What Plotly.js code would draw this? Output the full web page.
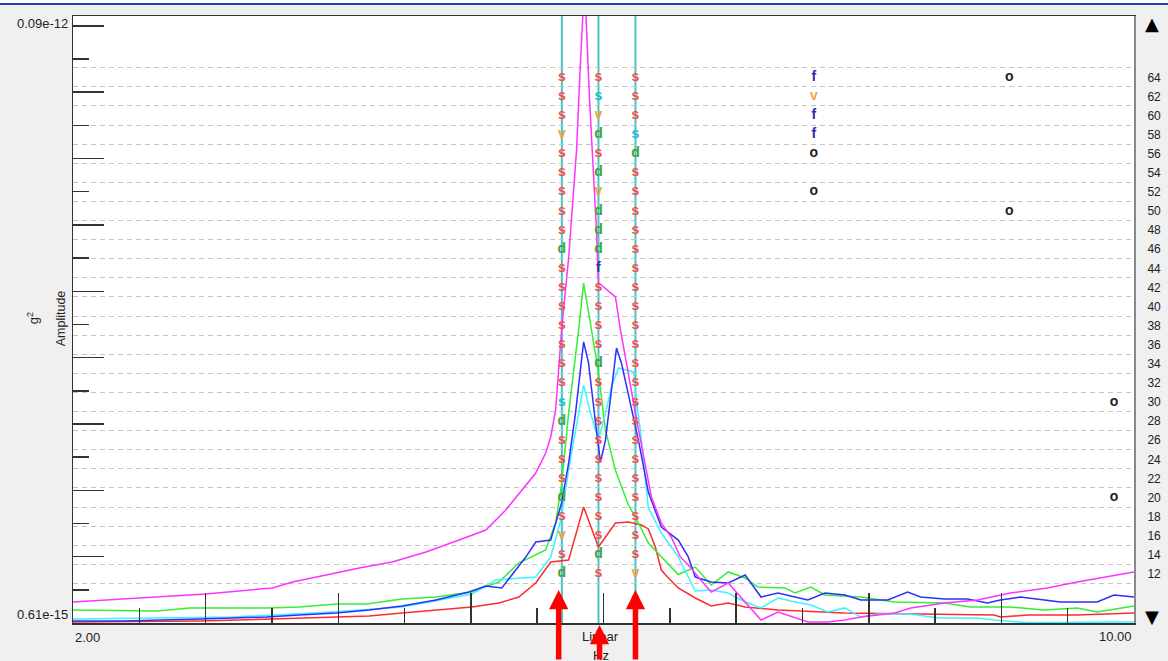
<!DOCTYPE html>
<html><head><meta charset="utf-8">
<script src="https://cdn.plot.ly/plotly-3.0.1.min.js"></script>
<style>html,body{margin:0;padding:0;background:#f0f0f0;overflow:hidden}#chart{width:1168px;height:661px}</style>
</head><body><div id="chart"></div>
<script>
// ---- data (frequency in Hz, amplitude in 1e-15 g^2) ----
const magentaFreq = [2.000,2.504,3.000,3.504,3.654,3.910,4.158,4.406,4.662,4.910,5.113,5.263,5.383,5.489,5.564,5.602,5.639,5.684,5.737,5.797,5.827,5.857,5.895,5.925,5.947,5.962,6.090,6.128,6.241,6.361,6.436,6.511,6.579,6.654,6.714,6.812,6.940,7.188,7.316,7.541,7.692,7.820,7.940,8.195,8.316,8.571,8.820,9.068,9.346,9.571,10.000];
const magentaAmp  = [0.727,0.752,0.777,0.818,0.860,0.911,0.966,1.016,1.105,1.221,1.328,1.569,1.855,2.139,2.527,2.891,3.622,7.07,12.9,31.9,67.7,130,48.4,27.0,16.3,10.5,9.32,7.07,3.53,1.75,1.41,1.25,1.06,0.974,0.896,0.790,0.852,0.625,0.669,0.615,0.615,0.625,0.641,0.663,0.692,0.721,0.739,0.784,0.818,0.860,0.935];

const greenFreq = [2.000,2.632,2.880,3.459,3.707,3.985,4.211,4.481,4.737,5.008,5.211,5.361,5.564,5.639,5.684,5.737,5.812,5.850,5.910,5.962,6.015,6.090,6.188,6.241,6.338,6.436,6.564,6.692,6.812,6.940,7.068,7.165,7.368,7.444,7.564,7.669,7.940,8.195,8.571,8.767,9.068,9.323,9.571,9.722,10.000];
const greenAmp  = [0.680,0.675,0.692,0.692,0.697,0.715,0.715,0.746,0.758,0.790,0.860,1.007,1.123,1.408,1.94,3.53,7.07,10.47,7.07,4.94,3.06,2.19,1.636,1.48,1.19,1.06,0.915,0.974,0.838,0.935,0.889,0.824,0.818,0.784,0.824,0.771,0.758,0.727,0.721,0.697,0.697,0.680,0.692,0.669,0.703];

const blueFreq = [2.000,2.376,2.955,3.459,3.707,3.985,4.233,4.481,4.737,4.985,5.113,5.233,5.414,5.489,5.602,5.684,5.737,5.789,5.850,5.887,5.940,5.977,6.015,6.053,6.098,6.135,6.211,6.263,6.338,6.436,6.564,6.639,6.692,6.812,6.940,7.068,7.188,7.316,7.444,7.541,7.669,7.820,7.940,8.143,8.293,8.391,8.571,8.744,8.895,8.992,9.143,9.323,9.444,9.722,9.850,10.000];
const blueAmp  = [0.620,0.620,0.631,0.641,0.652,0.663,0.680,0.703,0.739,0.790,0.831,0.818,1.059,1.201,1.221,1.664,2.325,3.53,6.40,5.37,3.25,2.34,2.82,4.04,6.08,5.37,3.71,2.82,1.824,1.36,1.22,1.06,0.896,0.860,0.852,0.911,0.758,0.784,0.758,0.739,0.784,0.771,0.739,0.739,0.790,0.758,0.746,0.746,0.721,0.739,0.758,0.739,0.727,0.727,0.771,0.758];

const cyanFreq = [2.000,3.203,3.955,4.481,5.008,5.188,5.489,5.602,5.684,5.737,5.850,5.902,5.962,6.015,6.060,6.113,6.226,6.248,6.278,6.301,6.338,6.436,6.564,6.692,6.812,6.940,7.068,7.188,7.316,7.444,7.564,7.692,7.820,7.940,8.068,8.316,8.519,8.820,8.947,9.195,9.444,10.000];
const cyanAmp  = [0.631,0.641,0.669,0.697,0.777,0.874,0.896,1.059,1.48,2.19,4.46,3.53,2.82,3.53,4.39,5.15,4.98,3.94,3.06,2.33,1.596,1.295,1.06,0.797,0.804,0.784,0.727,0.692,0.752,0.727,0.709,0.669,0.692,0.641,0.658,0.658,0.636,0.636,0.625,0.612,0.612,0.615];

const redFreq = [2.000,2.955,3.504,3.985,4.233,4.481,4.737,5.008,5.211,5.361,5.489,5.602,5.737,5.850,5.962,6.090,6.188,6.286,6.338,6.391,6.436,6.489,6.564,6.692,6.812,6.940,7.068,7.316,7.820,8.444,8.947,8.992,9.195,9.571,10.000];
const redAmp  = [0.615,0.620,0.631,0.641,0.647,0.663,0.680,0.697,0.721,0.758,0.852,1.016,1.033,1.609,1.152,1.408,1.420,1.384,1.34,1.152,0.950,0.889,0.818,0.752,0.703,0.721,0.697,0.680,0.663,0.658,0.652,0.641,0.652,0.652,0.663];

// mode indicator columns (cursor lines) and their letter codes, rows 64 -> 12
const modeFreqs = [5.686, 5.962, 6.241];
const letterRows = [64,62,60,58,56,54,52,50,48,46,44,42,40,38,36,34,32,30,28,26,24,22,20,18,16,14,12];
const modeCodes = [
  "sssvsssssdsssssssSdsssdsvsd",
  "sSvdsdvdddfssssdsssssssssds",
  "sssSdsssssssssssssssssssssv"
];
const extraFreq  = [7.586,7.586,7.586,7.586,7.586,7.586,9.060,9.060,9.850,9.850];
const extraRows  = [64,62,60,58,56,52,64,50,30,20];
const extraCodes = "fvffoooooo";
const arrowFreqs = [5.662, 5.970, 6.241];
const rightTicks = [12,14,16,18,20,22,24,26,28,30,32,34,36,38,40,42,44,46,48,50,52,54,56,58,60,62,64];
const rightGrid  = [11,13,15,17,19,21,23,25,27,29,31,33,35,37,39,41,43,45,47,49,51,53,55,57,59,61,63,65];
const yTopLabel = "0.09e-12", yBottomLabel = "0.61e-15";
const yTopValue = 90, yBottomValue = 0.61;

const FONT = "Liberation Sans, Arial, sans-serif";
const letterStyle = {s:['s','#ff4a4a'], S:['s','#22bccb'], d:['d','#46a03c'], v:['v','#f4a23a'], f:['f','#2e2eaa'], o:['o','#222222']};

function lineTrace(x, y, color){
  return {type:'scatter', mode:'lines', x:x, y:y, line:{color:color, width:1.5}, hoverinfo:'skip'};
}
const traces = [
  lineTrace(redFreq, redAmp, '#ff2b2b'),
  lineTrace(greenFreq, greenAmp, '#33ee33'),
  lineTrace(cyanFreq, cyanAmp, '#3cf4ff'),
  lineTrace(blueFreq, blueAmp, '#2e2eff'),
  lineTrace(magentaFreq, magentaAmp, '#ff33ff')
];

// letter traces
const lx = [], ly = [], lt = [], lc = [];
modeCodes.forEach((codes, ci) => {
  codes.split('').forEach((c, ri) => {
    lx.push(modeFreqs[ci]); ly.push(letterRows[ri]);
    lt.push(letterStyle[c][0]); lc.push(letterStyle[c][1]);
  });
});
extraCodes.split('').forEach((c, i) => {
  lx.push(extraFreq[i]); ly.push(extraRows[i]);
  lt.push(letterStyle[c][0]); lc.push(letterStyle[c][1]);
});
traces.push({type:'scatter', mode:'text', x:lx, y:ly, text:lt, yaxis:'y2',
  textposition:'middle center', textfont:{family:FONT, size:14, weight:'bold', color:lc}, hoverinfo:'skip', cliponaxis:false});

// left axis divisions (18 equal steps on the log scale)
const lt0 = Math.log10(yTopValue), lt1 = Math.log10(yBottomValue);
const majorVals = [], minorVals = [];
for (let k = 0; k <= 18; k++) {
  const v = Math.pow(10, lt0 - (lt0 - lt1) * k / 18);
  (k % 2 === 0 ? majorVals : minorVals).push(v);
}

const shapes = modeFreqs.map(f => ({type:'line', xref:'x', yref:'paper', x0:f, x1:f, y0:0, y1:1,
  line:{color:'#45c4c4', width:2}, layer:'below'}));
shapes.push({type:'rect', xref:'paper', yref:'paper', x0:-0.07, x1:1.04, y0:1.0215, y1:1.04, fillcolor:'#ffffff', line:{width:0}});
shapes.push({type:'line', xref:'paper', yref:'paper', x0:-0.07, x1:1.04, y0:1.0198, y1:1.0198, line:{color:'#1c44b0', width:2}});

const txt = (text, x, y, xanchor, opts) => Object.assign({text:text, x:x, y:y, xref:'paper', yref:'paper',
  xanchor:xanchor, yanchor:'middle', showarrow:false, font:{family:FONT, size:13, color:'#222'}}, opts || {});

const annotations = [
  txt(yTopLabel, -0.0028, 0.987, 'right'),
  txt(yBottomLabel, -0.0028, 0.0132, 'right'),
  txt('2.00', 0, -0.0231, 'left'),
  txt('10.00', 1, -0.0215, 'right'),
  txt('Linear', 0.4976, -0.0215, 'center'),
  txt('Hz', 0.4976, -0.054, 'center'),
  txt('Amplitude', -0.0113, 0.502, 'center', {textangle:-90, font:{family:FONT, size:12.5, color:'#222'}}),
  txt('g<sup>2</sup>', -0.0377, 0.502, 'center', {textangle:-90, font:{family:FONT, size:13, color:'#222'}}),
  txt('▲', 1.017, 0.988, 'center', {font:{family:'DejaVu Sans', size:18, color:'#000'}}),
  txt('▼', 1.017, 0.0115, 'center', {font:{family:'DejaVu Sans', size:18, color:'#000'}})
];
const arrowTips = [0.0544, -0.0033, 0.0544];
arrowFreqs.forEach((f, i) => annotations.push({x:f, xref:'x', y:arrowTips[i], yref:'paper', text:'',
  showarrow:true, ax:0, ay:90, arrowhead:2, arrowsize:0.7, arrowwidth:5.5, arrowcolor:'#ff0000', standoff:0}));

const layout = {
  width:1168, height:661,
  margin:{l:73, r:34, t:16, b:38, pad:0},
  paper_bgcolor:'#f0f0f0', plot_bgcolor:'#ffffff',
  showlegend:false, hovermode:false,
  font:{family:FONT, size:13, color:'#222'},
  xaxis:{range:[2,10], showgrid:false, zeroline:false, showline:true, linecolor:'#333', linewidth:1.5, mirror:true,
    ticks:'inside', dtick:1, tick0:2, ticklen:30, tickwidth:1.5, tickcolor:'#333', showticklabels:false,
    minor:{dtick:0.5, tick0:2, ticks:'inside', ticklen:15, tickwidth:1.5, tickcolor:'#333', showgrid:false}},
  yaxis:{type:'log', range:[Math.log10(0.61), 1.9901], showgrid:false, zeroline:false, showline:true,
    linecolor:'#333', linewidth:1.5, ticks:'inside', tickmode:'array', tickvals:majorVals, ticklen:31,
    tickwidth:1.5, tickcolor:'#333', showticklabels:false,
    minor:{tickmode:'array', tickvals:minorVals, ticks:'inside', ticklen:16, tickwidth:1.5, tickcolor:'#333', showgrid:false}},
  yaxis2:{overlaying:'y', side:'right', range:[6.86, 70.42], showgrid:false, zeroline:false, showline:true,
    linecolor:'#8a8a8a', linewidth:2, tickmode:'array', tickvals:rightTicks, ticktext:rightTicks.map(String),
    ticks:'outside', ticklen:9, tickcolor:'rgba(0,0,0,0)', tickfont:{family:FONT, size:12, color:'#222'},
    minor:{tickmode:'array', tickvals:rightGrid, ticks:'', showgrid:true, gridcolor:'#c4c4c4', griddash:'5px,4px', gridwidth:1}},
  shapes:shapes,
  annotations:annotations
};

Plotly.newPlot('chart', traces, layout, {staticPlot:true, displayModeBar:false});
</script>
</body></html>
